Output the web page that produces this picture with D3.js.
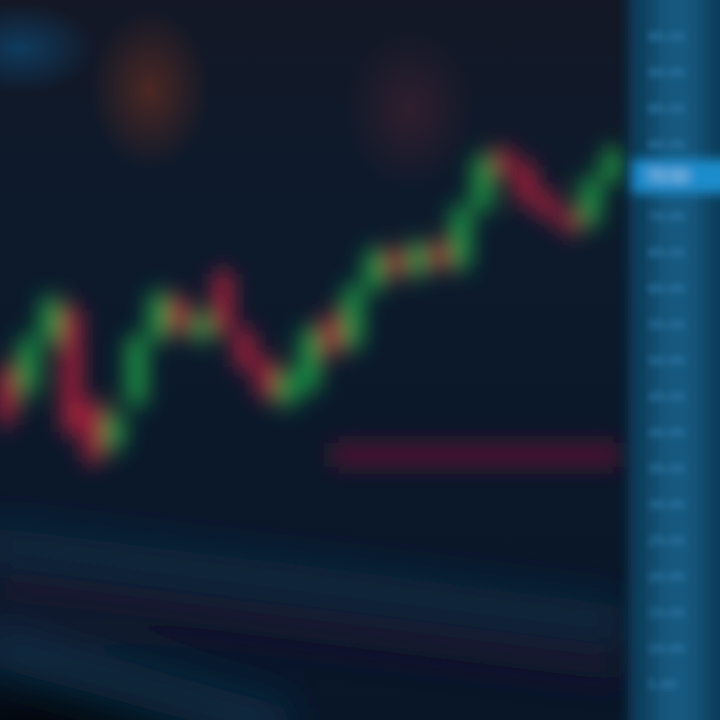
<!DOCTYPE html>
<html><head><meta charset="utf-8">
<script src="https://cdn.jsdelivr.net/npm/d3@7"></script>
<style>html,body{margin:0;padding:0;background:#0a1a2e;overflow:hidden}</style>
</head><body>
<svg id="c" width="720" height="720"></svg>
<script>
// Candle data (price units)
const idx   = d3.range(29);
const opens = [48.6,45.8,52.8,57,44,38,44,53,58.5,53,62,54,50,44,46,56,52,60,65,62,66,63,71,79,77,73,70.5,69,75];
const closes= [41.7,52.8,58.3,40,36,42,53,59,54,56,54,49,45,48,54,51,60,65,62,66,63,71,78,76,72,70,68,75,79];
const highs = [50,54,59.5,58.5,45,44,54,60,59.5,57,63,55,51,49,55,57,61,66,66,67,67,72,79,80,78,74,71,76,80];
const lows  = [40,44,51.5,39,35,37,43,52,53,52,53,48,44,43,45,50,51,59,61,61,62,62,70,75,71,69,67,68,74];
const supportLevel = 36.8;          // red horizontal level
const supportFrom = 15, supportTo = 28.4;
const currentPrice = 75.5;
const maFar  = [[-1,24.8],[28.6,13.6]];
const maMid  = [[-1,18.5],[28.6,7.5]];
const maNear = [[-1,10.5],[13,-1]];
const priceTicks = [5,10,15,20,25,30,35,40,45,50,55,60,65,70,80,85,90,95];

const svg = d3.select("#c");
const W=720,H=720, plotR=628;
const x = d3.scaleBand().domain(idx).range([-6,625]).padding(0.18);
const xc = i => x(i)+x.bandwidth()/2;
const xl = d3.scaleLinear().domain([0,28]).range([xc(0),xc(28)]);
const y = d3.scaleLinear().domain([0,100]).range([720,0]);

const defs = svg.append("defs");
[["b3",3],["b6",6],["b11",11],["b20",20],["b30",30]].forEach(([id,s])=>{
  defs.append("filter").attr("id",id).attr("filterUnits","userSpaceOnUse")
   .attr("x",-200).attr("y",-200).attr("width",1120).attr("height",1120)
   .append("feGaussianBlur").attr("stdDeviation",s);
});
const bg = defs.append("linearGradient").attr("id","bg").attr("x1",0).attr("y1",0).attr("x2",0).attr("y2",1);
bg.append("stop").attr("offset","0").attr("stop-color","#141826");
bg.append("stop").attr("offset","0.3").attr("stop-color","#0c1a2c");
bg.append("stop").attr("offset","1").attr("stop-color","#081628");

svg.append("rect").attr("width",W).attr("height",H).attr("fill","url(#bg)");

// ambient blobs (radial gradients: smooth, no banding rings)
function blob(id, cx, cy, rx, ry, col, op){
  const g = defs.append("radialGradient").attr("id",id);
  g.append("stop").attr("offset","0").attr("stop-color",col).attr("stop-opacity",op);
  g.append("stop").attr("offset","0.5").attr("stop-color",col).attr("stop-opacity",op*0.5);
  g.append("stop").attr("offset","1").attr("stop-color",col).attr("stop-opacity",0);
  svg.append("ellipse").attr("cx",cx).attr("cy",cy).attr("rx",rx).attr("ry",ry).attr("fill",`url(#${id})`);
}
blob("g1",150,90,60,80,"#5e2c22",0.75);
blob("g2",410,110,65,80,"#3a2030",0.75);
blob("g3",20,48,75,45,"#0e4a75",0.7);
blob("g4",30,725,220,70,"#020508",0.9);

// moving average lines (out of focus)
const line = d3.line().x(d=>xl(d[0])).y(d=>y(d[1]));
const ma = svg.append("g").attr("filter","url(#b20)");
ma.append("path").attr("d",line(maFar)).attr("stroke","#0f3550").attr("stroke-width",34).attr("fill","none").attr("opacity",0.6);
ma.append("path").attr("d",line(maMid)).attr("stroke","#241430").attr("stroke-width",30).attr("fill","none").attr("opacity",0.6);
ma.append("path").attr("d",line(maNear)).attr("stroke","#0f3550").attr("stroke-width",40).attr("fill","none").attr("opacity",0.75);

// support level
svg.append("rect").attr("x",xl(supportFrom)).attr("width",xl(supportTo)-xl(supportFrom))
  .attr("y",y(supportLevel)-12).attr("height",24)
  .attr("fill","#4e1433").attr("filter","url(#b11)");

// candles
const green="#22a84a", red="#b8203e";
const cg = svg.append("g").attr("filter","url(#b11)");
idx.forEach(i=>{
  const up = closes[i]>=opens[i];
  const col = up?green:red;
  cg.append("rect").attr("x",xc(i)-2).attr("width",4).attr("y",y(highs[i])).attr("height",y(lows[i])-y(highs[i]))
    .attr("fill",col);
  cg.append("rect").attr("x",x(i)).attr("width",x.bandwidth())
    .attr("y",y(Math.max(opens[i],closes[i])))
    .attr("height",Math.max(2,Math.abs(y(opens[i])-y(closes[i]))))
    .attr("fill",col);
});

// right price axis panel
const ax = svg.append("g");
ax.append("rect").attr("x",plotR).attr("y",-20).attr("width",120).attr("height",760).attr("fill","#0c3a58").attr("filter","url(#b6)");
ax.append("rect").attr("x",652).attr("y",-20).attr("width",52).attr("height",760).attr("fill","#12587f").attr("filter","url(#b11)");
const axisG = ax.append("g").attr("transform",`translate(${plotR+6},0)`).attr("filter","url(#b3)")
  .call(d3.axisRight(y).tickValues(priceTicks).tickSize(0).tickFormat(d=>d.toFixed(2)));
axisG.select(".domain").remove();
axisG.selectAll("text").attr("fill","#3a8cc0").attr("font-family","DejaVu Sans").attr("font-size",13).attr("x",14);
const tag = ax.append("g").attr("filter","url(#b6)");
tag.append("rect").attr("x",plotR+4).attr("y",y(currentPrice)-17).attr("width",100).attr("height",34).attr("fill","#1a8ccc");
tag.append("text").attr("x",plotR+20).attr("y",y(currentPrice)+5).attr("fill","#d8f0ff")
  .attr("font-family","DejaVu Sans").attr("font-size",14).text(currentPrice.toFixed(2));
</script>
</body></html>
